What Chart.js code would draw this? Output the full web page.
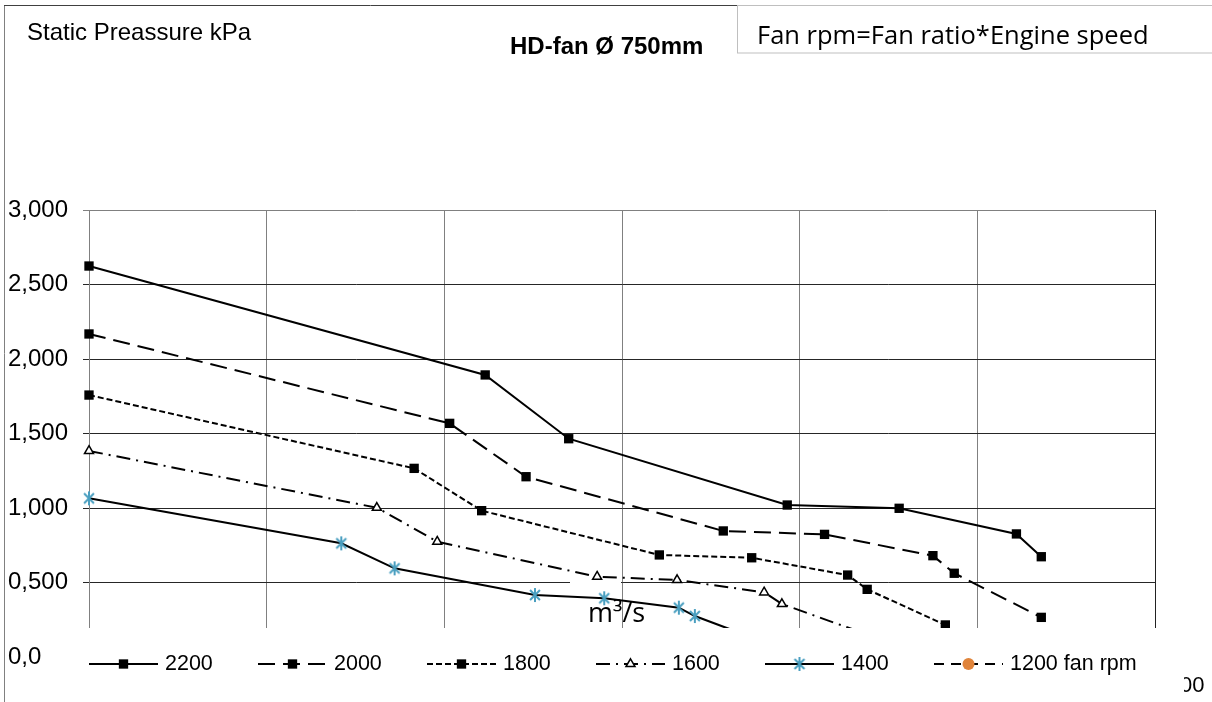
<!DOCTYPE html>
<html lang="en">
<head>
<meta charset="UTF-8">
<title>HD-fan Ø 750mm</title>
<script src="https://cdn.jsdelivr.net/npm/chart.js"></script>
<style>
  html, body { margin: 0; padding: 0; background: #fff; }
</style>
</head>
<body>
<canvas id="fanChart" width="1212" height="702"></canvas>
<script>
// flow in m3/s, static pressure in kPa
const seriesNames = ['2200', '2000', '1800', '1600', '1400', '1200 fan rpm'];

const flow2200 = [0, 2.23, 2.70, 3.93, 4.56, 5.22, 5.36];
const press2200 = [2.624, 1.893, 1.465, 1.020, 0.998, 0.826, 0.673];

const flow2000 = [0, 2.03, 2.46, 3.57, 4.14, 4.75, 4.87, 5.36];
const press2000 = [2.168, 1.568, 1.210, 0.846, 0.823, 0.680, 0.562, 0.266];

const flow1800 = [0, 1.83, 2.21, 3.21, 3.73, 4.27, 4.38, 4.82];
const press1800 = [1.758, 1.266, 0.982, 0.685, 0.666, 0.550, 0.454, 0.215];

const flow1600 = [0, 1.62, 1.96, 2.86, 3.31, 3.80, 3.90, 4.45];
const press1600 = [1.383, 1.002, 0.774, 0.539, 0.517, 0.434, 0.356, 0.121];

const flow1400 = [0, 1.42, 1.72, 2.51, 2.90, 3.32, 3.41, 3.89];
const press1400 = [1.065, 0.763, 0.595, 0.416, 0.394, 0.331, 0.275, 0.060];

const flow1200 = [];
const press1200 = [];

const yTickLabels = ['0,0', '0,500', '1,000', '1,500', '2,000', '2,500', '3,000'];

const FONT = '"Liberation Sans", Arial, sans-serif';
Chart.defaults.font.family = FONT;
Chart.defaults.color = '#000';

function toPoints(xs, ys) {
    return xs.map((x, i) => ({ x: x, y: ys[i] }));
}

// Excel style asterisk marker
function makeStar(size, color) {
    const c = document.createElement('canvas');
    c.width = size;
    c.height = size;
    const g = c.getContext('2d');
    const m = size / 2, r = size / 2 - 1;
    g.strokeStyle = color;
    g.lineWidth = 2;
    g.beginPath();
    g.moveTo(m, m - r); g.lineTo(m, m + r);
    const d = r * Math.SQRT1_2;
    g.moveTo(m - d, m - d); g.lineTo(m + d, m + d);
    g.moveTo(m + d, m - d); g.lineTo(m - d, m + d);
    g.stroke();
    return c;
}
const starImg = makeStar(16, '#4a9fc0');

function series(label, xs, ys, dash, extra) {
    return Object.assign({
        label: label,
        data: toPoints(xs, ys),
        borderColor: '#000',
        backgroundColor: '#000',
        pointBorderColor: '#000',
        pointBackgroundColor: '#000',
        borderWidth: 2,
        borderDash: dash,
        pointStyle: 'rect',
        pointRadius: 6.6,
        pointBorderWidth: 0,
        tension: 0,
        clip: false
    }, extra || {});
}

const datasets = [
    series(seriesNames[0], flow2200, press2200, []),
    series(seriesNames[1], flow2000, press2000, [17, 8]),
    series(seriesNames[2], flow1800, press1800, [6, 3]),
    series(seriesNames[3], flow1600, press1600, [14, 6, 2, 6], {
        pointStyle: 'triangle', pointRadius: 5.2, pointBorderWidth: 1.5,
        pointBackgroundColor: '#fff'
    }),
    series(seriesNames[4], flow1400, press1400, [], {
        pointStyle: starImg, pointRadius: 8
    }),
    series(seriesNames[5], flow1200, press1200, [10, 7], {
        pointStyle: 'circle', pointRadius: 6, pointBackgroundColor: '#e0843b',
        pointBorderColor: '#e0843b'
    })
];

const decorPlugin = {
    id: 'decor',
    beforeDatasetsDraw(chart) {
        const ctx = chart.ctx;
        ctx.save();
        // axis title box
        ctx.fillStyle = '#fff';
        ctx.fillRect(570, 581, 51, 47);
        ctx.fillStyle = '#000';
        ctx.font = '27px "Open Sans"';
        ctx.textBaseline = 'alphabetic';
        ctx.textAlign = 'left';
        ctx.fillText('m³/s', 588, 622);
        ctx.restore();
    },
    afterDraw(chart) {
        const ctx = chart.ctx;
        ctx.save();

        // clipped axis label at the right
        ctx.fillStyle = '#000';
        ctx.font = '22px ' + FONT;
        ctx.textBaseline = 'middle';
        ctx.fillText('00', 1180, 686);

        // legend band over the bottom of the plot
        ctx.fillStyle = '#fff';
        ctx.fillRect(75, 628, 1109, 74);

        const ly = 664;
        chart.data.datasets.forEach((ds, i) => {
            const x0 = 89 + i * 169;
            ctx.save();
            ctx.strokeStyle = '#000';
            ctx.lineWidth = 2;
            ctx.setLineDash(ds.borderDash);
            ctx.beginPath();
            ctx.moveTo(x0, ly);
            ctx.lineTo(x0 + 69, ly);
            ctx.stroke();
            ctx.setLineDash([]);
            ctx.fillStyle = ds.pointBackgroundColor;
            ctx.strokeStyle = ds.pointBorderColor;
            ctx.lineWidth = ds.pointBorderWidth;
            Chart.helpers.drawPoint(ctx, {
                pointStyle: ds.pointStyle,
                radius: ds.pointRadius,
                rotation: 0,
                borderWidth: ds.pointBorderWidth
            }, x0 + 34.5, ly);
            ctx.restore();
            ctx.fillStyle = '#000';
            ctx.font = '21.5px ' + FONT;
            ctx.textBaseline = 'middle';
            ctx.textAlign = 'left';
            ctx.fillText(ds.label, x0 + 76, ly);
        });

        // outer frame
        ctx.lineWidth = 1;
        ctx.strokeStyle = '#808080';
        ctx.beginPath();
        ctx.moveTo(4.5, 5);
        ctx.lineTo(4.5, 702);
        ctx.stroke();
        ctx.strokeStyle = '#404040';
        ctx.beginPath();
        ctx.moveTo(4, 5.5);
        ctx.lineTo(737, 5.5);
        ctx.stroke();

        // note box
        ctx.strokeStyle = '#bfbfbf';
        ctx.strokeRect(737.5, 5.5, 490, 47.5);

        // titles
        ctx.fillStyle = '#000';
        ctx.textAlign = 'left';
        ctx.textBaseline = 'alphabetic';
        ctx.font = '24px ' + FONT;
        ctx.fillText('Static Preassure kPa', 27, 40);
        ctx.font = 'bold 24px ' + FONT;
        ctx.fillText('HD-fan Ø 750mm', 510, 54);
        ctx.font = '25.5px "Open Sans"';
        ctx.fillText('Fan rpm=Fan ratio*Engine speed', 757, 44);

        ctx.restore();
    }
};

new Chart(document.getElementById('fanChart'), {
    type: 'line',
    data: { datasets: datasets },
    options: {
        responsive: false,
        animation: false,
        events: [],
        layout: { padding: { left: 8, right: 57, top: 210, bottom: 45 } },
        plugins: {
            legend: { display: false },
            tooltip: { enabled: false }
        },
        scales: {
            x: {
                type: 'linear',
                min: 0,
                max: 6,
                ticks: { stepSize: 1, display: false },
                grid: {
                    color: (c) => c.tick && c.tick.value === 6 ? '#222' : '#808080',
                    drawTicks: false
                },
                border: { display: false },
                afterFit: (s) => { s.height = 0; }
            },
            y: {
                min: 0,
                max: 3,
                ticks: {
                    stepSize: 0.5,
                    padding: 14,
                    crossAlign: 'far',
                    font: { size: 24 },
                    callback: (v) => yTickLabels[Math.round(v * 2)]
                },
                grid: {
                    color: (c) => c.tick && c.tick.value === 3 ? '#808080' : '#262626',
                    tickLength: 6
                },
                border: { color: '#808080' },
                afterFit: (s) => { s.width = 81; }
            }
        }
    },
    plugins: [decorPlugin]
});
</script>
</body>
</html>
